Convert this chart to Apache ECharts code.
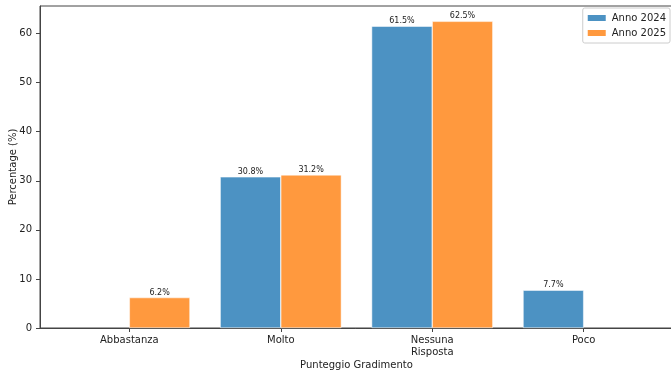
<!DOCTYPE html>
<html><head><meta charset="utf-8">
<script src="https://cdn.jsdelivr.net/npm/echarts@6/dist/echarts.min.js"></script>
<style>html,body{margin:0;padding:0;background:#fff}#c{width:671px;height:376px}</style>
</head><body><div id="c"></div>
<script>
const categories = ['Abbastanza', 'Molto', 'Nessuna\nRisposta', 'Poco'];
const values2024 = [null, 30.8, 61.5, 7.7];
const values2025 = [6.2, 31.2, 62.5, null];
const seriesNames = ['Anno 2024', 'Anno 2025'];
const yTicks = [0, 10, 20, 30, 40, 50, 60];

const font = 'DejaVu Sans';
const chart = echarts.init(document.getElementById('c'), null, {renderer: 'canvas'});
function pts(arr) { return arr.map((v, i) => [i, v]); }
const labelOpt = {
  show: true, position: 'top', distance: 1, fontFamily: font, fontSize: 8, color: '#222',
  formatter: p => p.value[1] == null ? '' : p.value[1].toFixed(1) + '%'
};
chart.setOption({
  animation: false,
  grid: {left: 40, top: 6, width: 633, bottom: 48, show: true, borderColor: '#444', borderWidth: 1,
    backgroundColor: 'transparent', containLabel: false, outerBoundsMode: 'none'},
  legend: {
    right: 1, top: 8, orient: 'vertical', itemWidth: 20, itemHeight: 8, itemGap: 5,
    padding: [5, 4, 5, 3], borderColor: '#ccc', borderWidth: 1, borderRadius: 2,
    textStyle: {fontFamily: font, fontSize: 10, color: '#222'},
    data: seriesNames.map(n => ({name: n, icon: 'rect'}))
  },
  xAxis: {
    type: 'value', min: -0.59, max: 3.59,
    name: 'Punteggio Gradimento', nameLocation: 'middle', nameGap: 32, nameMoveOverlap: false,
    nameTextStyle: {fontFamily: font, fontSize: 10, color: '#222'},
    splitLine: {show: false},
    axisLine: {show: true, onZero: false, lineStyle: {color: '#444'}},
    axisTick: {show: true, customValues: [0, 1, 2, 3], length: 4, lineStyle: {color: '#444'}},
    axisLabel: {customValues: [0, 1, 2, 3], fontFamily: font, fontSize: 10, color: '#222', margin: 6, lineHeight: 12,
      formatter: v => categories[Math.round(v)]}
  },
  yAxis: {
    type: 'value', min: 0, max: 65.625, interval: 10,
    name: 'Percentage (%)', nameLocation: 'middle', nameGap: 22, nameMoveOverlap: false,
    nameTextStyle: {fontFamily: font, fontSize: 10, color: '#222'},
    splitLine: {show: false},
    axisLine: {show: true, onZero: false, lineStyle: {color: '#444'}},
    axisTick: {show: true, length: 4, lineStyle: {color: '#444'}},
    axisLabel: {fontFamily: font, fontSize: 10, color: '#222', margin: 8, showMaxLabel: false,
      formatter: v => yTicks.includes(v) ? String(v) : ''}
  },
  series: [
    {name: seriesNames[0], type: 'bar', data: pts(values2024), barWidth: 60.6, barGap: '0%',
     itemStyle: {color: '#4c92c3', borderColor: '#ffffff', borderWidth: 0.5}, label: labelOpt},
    {name: seriesNames[1], type: 'bar', data: pts(values2025), barWidth: 60.6, barGap: '0%',
     itemStyle: {color: '#ff993e', borderColor: '#ffffff', borderWidth: 0.5}, label: labelOpt}
  ]
});
</script></body></html>
